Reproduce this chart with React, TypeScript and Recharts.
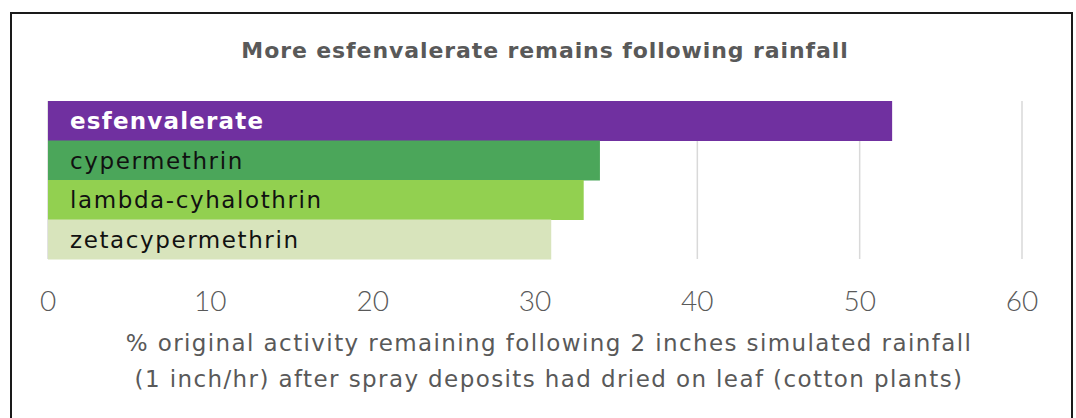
import { BarChart, Bar, XAxis, YAxis, CartesianGrid, Cell, LabelList } from 'recharts'

const chemicals = ['esfenvalerate', 'cypermethrin', 'lambda-cyhalothrin', 'zetacypermethrin']
const remaining = [52, 34, 33, 31]
const barColors = ['#7030A0', '#4BA65A', '#92D050', '#D8E4BC']
const xTicks = [0, 10, 20, 30, 40, 50, 60]

const title = 'More esfenvalerate remains following rainfall'
const axisTitle = [
  '% original activity remaining following 2 inches simulated rainfall',
  '(1 inch/hr) after spray deposits had dried on leaf (cotton plants)',
]

const data = chemicals.map((name, i) => ({ name, value: remaining[i] }))

const font = '"DejaVu Sans", sans-serif'
const tickFont = 'Lato, "Noto Sans", sans-serif'

const renderLabel = (props: any) => {
  const { x, y, height, index } = props
  const first = index === 0
  return (
    <text
      x={x + 22}
      y={y + height / 2}
      dominantBaseline="central"
      fontFamily={font}
      fontSize={23}
      letterSpacing={first ? 1.2 : 1.6}
      fontWeight={first ? 700 : 400}
      fill={first ? '#ffffff' : '#111111'}
    >
      {chemicals[index]}
    </text>
  )
}

export default function App() {
  return (
    <div style={{ position: 'absolute', left: 0, top: 0, width: 1076, height: 418, background: '#fff', overflow: 'hidden' }}>
      {/* frame */}
      <div
        style={{
          position: 'absolute',
          left: 10,
          top: 12,
          width: 1059,
          height: 440,
          border: '2px solid #1a1a1a',
        }}
      />
      <div
        style={{
          position: 'absolute',
          left: 0,
          top: 38,
          width: 1090,
          textAlign: 'center',
          fontFamily: font,
          fontSize: 22,
          letterSpacing: 0.9,
          fontWeight: 700,
          color: '#595959',
        }}
      >
        {title}
      </div>
      <div style={{ position: 'absolute', left: 0, top: 0 }}>
        <BarChart
          width={1076}
          height={418}
          data={data}
          layout="vertical"
          margin={{ top: 101, right: 54, bottom: 99, left: 48 }}
          barCategoryGap={0}
        >
          <CartesianGrid horizontal={false} stroke="#d9d9d9" strokeWidth={1.5} />
          <XAxis
            type="number"
            domain={[0, 60]}
            ticks={xTicks}
            axisLine={false}
            tickLine={false}
            tickMargin={26}
            height={60}
            interval={0}
            tick={{ fill: '#595959', fontSize: 28, fontFamily: tickFont, fontWeight: 300 }}
          />
          <YAxis type="category" dataKey="name" hide />
          <Bar dataKey="value" isAnimationActive={false}>
            {data.map((d, i) => (
              <Cell key={d.name} fill={barColors[i]} />
            ))}
            <LabelList dataKey="name" content={renderLabel} />
          </Bar>
        </BarChart>
      </div>
      <div
        style={{
          position: 'absolute',
          left: 0,
          top: 325,
          width: 1098,
          textAlign: 'center',
          fontFamily: font,
          fontSize: 23,
          letterSpacing: 1.4,
          lineHeight: '36px',
          color: '#595959',
        }}
      >
        {axisTitle.map((l) => (
          <div key={l}>{l}</div>
        ))}
      </div>
    </div>
  )
}
